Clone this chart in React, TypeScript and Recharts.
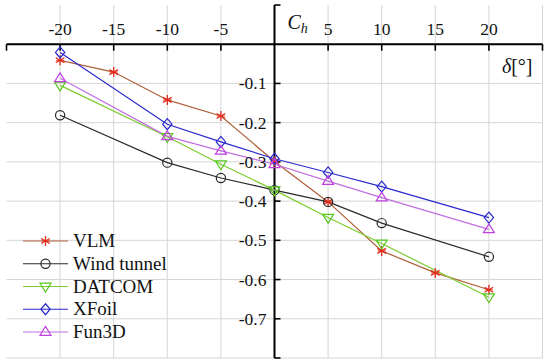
import React from 'react';
import { LineChart, Line, XAxis, YAxis, CartesianGrid, ReferenceLine, ReferenceDot, Legend } from 'recharts';

const vlmDeltas = [-20, -15, -10, -5, 0, 5, 10, 15, 20];
const vlm = [-0.041, -0.071, -0.142, -0.183, -0.299, -0.402, -0.527, -0.583, -0.626];
const otherDeltas = [-20, -10, -5, 0, 5, 10, 20];
const windTunnel = [-0.181, -0.302, -0.341, -0.372, -0.402, -0.456, -0.542];
const datcom = [-0.105, -0.236, -0.306, -0.372, -0.442, -0.508, -0.645];
const xfoil = [-0.021, -0.204, -0.249, -0.292, -0.327, -0.363, -0.442];
const fun3d = [-0.087, -0.235, -0.272, -0.306, -0.349, -0.391, -0.472];

const xTicks = [-25, -20, -15, -10, -5, 0, 5, 10, 15, 20, 25];
const xTickLabels = [-20, -15, -10, -5, 5, 10, 15, 20];
const yTicks = [0.1, 0, -0.1, -0.2, -0.3, -0.4, -0.5, -0.6, -0.7, -0.8];
const yTickLabels = [-0.1, -0.2, -0.3, -0.4, -0.5, -0.6, -0.7];

const FONT = 'Liberation Serif';

const toData = (xs: number[], ys: number[]) => xs.map((d, i) => ({ d, v: ys[i] }));

type Series = { name: string; data: { d: number; v: number }[]; line: string; marker: string; kind: string };

const series: Series[] = [
  { name: 'VLM', data: toData(vlmDeltas, vlm), line: '#b0603a', marker: '#e02a1a', kind: 'star' },
  { name: 'Wind tunnel', data: toData(otherDeltas, windTunnel), line: '#2a2a2a', marker: '#2a2a2a', kind: 'circle' },
  { name: 'DATCOM', data: toData(otherDeltas, datcom), line: '#7ccc2e', marker: '#55c81e', kind: 'tdown' },
  { name: 'XFoil', data: toData(otherDeltas, xfoil), line: '#2a2ad0', marker: '#2a2ad0', kind: 'diamond' },
  { name: 'Fun3D', data: toData(otherDeltas, fun3d), line: '#c26ee0', marker: '#c040e0', kind: 'tup' },
];

function Marker({ cx, cy, kind, color }: { cx: number; cy: number; kind: string; color: string }) {
  if (cx == null || cy == null) return null;
  const s = 5.5;
  if (kind === 'star') {
    const r = 5;
    const lines = [0, 60, 120].map((a) => {
      const rad = (a * Math.PI) / 180;
      return (
        <line key={a} x1={cx - r * Math.sin(rad)} y1={cy - r * Math.cos(rad)} x2={cx + r * Math.sin(rad)} y2={cy + r * Math.cos(rad)} stroke={color} strokeWidth={1.3} />
      );
    });
    return <g>{lines}<line x1={cx - 4} y1={cy} x2={cx + 4} y2={cy} stroke={color} strokeWidth={1} /></g>;
  }
  if (kind === 'circle') return <circle cx={cx} cy={cy} r={4.6} fill="none" stroke={color} strokeWidth={1.2} />;
  if (kind === 'tdown')
    return <polygon points={`${cx - s},${cy - s * 0.6} ${cx + s},${cy - s * 0.6} ${cx},${cy + s}`} fill="none" stroke={color} strokeWidth={1.2} />;
  if (kind === 'tup')
    return <polygon points={`${cx - s},${cy + s * 0.6} ${cx + s},${cy + s * 0.6} ${cx},${cy - s}`} fill="none" stroke={color} strokeWidth={1.2} />;
  if (kind === 'diamond')
    return <polygon points={`${cx},${cy - s} ${cx + s * 0.85},${cy} ${cx},${cy + s} ${cx - s * 0.85},${cy}`} fill="none" stroke={color} strokeWidth={1.2} />;
  return null;
}

function LegendContent() {
  const rowH = 22.75;
  return (
    <svg width={200} height={120} style={{ display: 'block' }}>
      {series.map((s, i) => {
        const y = 13 + i * rowH;
        return (
          <g key={s.name}>
            <line x1={23} y1={y} x2={68} y2={y} stroke={s.line} strokeWidth={1.2} />
            <Marker cx={45.5} cy={y} kind={s.kind} color={s.marker} />
            <text x={73} y={y + 6} fontFamily={FONT} fontSize={19} fill="#111">
              {s.name}
            </text>
          </g>
        );
      })}
    </svg>
  );
}

export default function App() {
  return (
    <div style={{ position: 'absolute', left: 0, top: 0, width: 550, height: 364, background: '#fff', fontFamily: FONT }}>
      <LineChart width={550} height={364} margin={{ top: 5, right: 7.5, bottom: 6, left: 6.5 }}>
        <XAxis type="number" dataKey="d" domain={[-25, 25]} ticks={xTicks} hide allowDuplicatedCategory={false} />
        <YAxis type="number" dataKey="v" domain={[-0.8, 0.1]} ticks={yTicks} hide />
        <CartesianGrid stroke="#d6d6d6" strokeWidth={1} verticalValues={xTicks} horizontalValues={yTicks} />
        <ReferenceLine y={0} stroke="#000" strokeWidth={2} />
        <ReferenceLine x={0} stroke="#000" strokeWidth={2} />
        {xTicks.map((t) => (
          <ReferenceDot
            key={'xt' + t}
            x={t}
            y={0}
            r={0}
            shape={(p: any) => (
              <g>
                {t !== 0 && <line x1={p.cx} y1={p.cy} x2={p.cx} y2={p.cy + 6.5} stroke="#000" strokeWidth={1.6} />}
                {xTickLabels.includes(t) && (
                  <text x={p.cx} y={p.cy - 9} textAnchor="middle" fontFamily={FONT} fontSize={17.5} fill="#111">
                    {String(t)}
                  </text>
                )}
              </g>
            )}
          />
        ))}
        {yTicks.map((t) => (
          <ReferenceDot
            key={'yt' + t}
            x={0}
            y={t}
            r={0}
            shape={(p: any) => (
              <g>
                {t !== 0 && <line x1={p.cx} y1={p.cy} x2={p.cx + 6} y2={p.cy} stroke="#000" strokeWidth={1.6} />}
                {yTickLabels.includes(t) && (
                  <text x={p.cx - 8} y={p.cy + 6} textAnchor="end" fontFamily={FONT} fontSize={17.5} fill="#111">
                    {t.toFixed(1)}
                  </text>
                )}
              </g>
            )}
          />
        ))}
        <ReferenceDot
          x={0}
          y={0}
          r={0}
          shape={(p: any) => (
            <text x={p.cx + 13} y={p.cy - 15} fontFamily={FONT} fontSize={20} fill="#111">
              <tspan fontStyle="italic">C</tspan>
              <tspan fontStyle="italic" fontSize={14} dy={4}>h</tspan>
            </text>
          )}
        />
        <ReferenceDot
          x={25}
          y={0}
          r={0}
          shape={(p: any) => (
            <text x={p.cx - 10} y={p.cy + 29} textAnchor="end" fontFamily={FONT} fontSize={20} fill="#111">
              <tspan fontStyle="italic">δ</tspan>
              <tspan>[°]</tspan>
            </text>
          )}
        />
        {series.map((s) => (
          <Line
            key={s.name}
            data={s.data}
            dataKey="v"
            name={s.name}
            type="linear"
            stroke={s.line}
            strokeWidth={1.2}
            isAnimationActive={false}
            dot={(p: any) => <Marker key={s.name + p.index} cx={p.cx} cy={p.cy} kind={s.kind} color={s.marker} />}
            activeDot={false}
          />
        ))}
        <Legend
          layout="horizontal"
          verticalAlign="middle"
          align="center"
          content={() => <LegendContent />}
          wrapperStyle={{ position: 'absolute', left: 0, top: 228, width: 200, height: 120 }}
        />
      </LineChart>
    </div>
  );
}
